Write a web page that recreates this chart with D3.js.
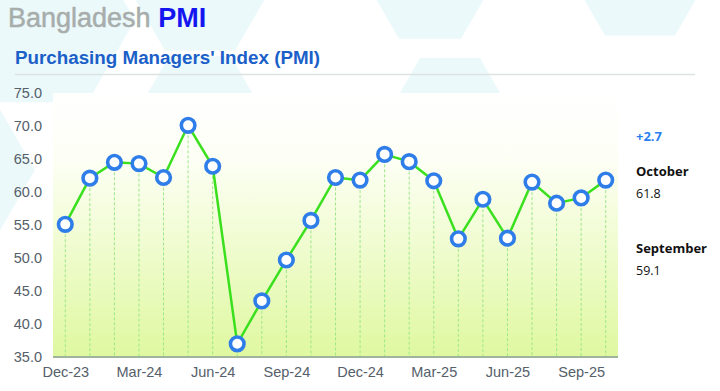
<!DOCTYPE html>
<html><head><meta charset="utf-8">
<script src="https://cdn.jsdelivr.net/npm/d3@7"></script>
<style>body{margin:0;background:#fff}svg{display:block}</style>
</head><body>
<script>
const months = ["Dec-23","Jan-24","Feb-24","Mar-24","Apr-24","May-24","Jun-24","Jul-24","Aug-24","Sep-24","Oct-24","Nov-24","Dec-24","Jan-25","Feb-25","Mar-25","Apr-25","May-25","Jun-25","Jul-25","Aug-25","Sep-25","Oct-25"];
const pmi = [55.1,62.1,64.5,64.3,62.2,70.1,63.9,37.0,43.5,49.7,55.7,62.2,61.8,65.7,64.6,61.7,52.9,58.9,53.0,61.5,58.3,59.1,61.8];
const xTickLabels = ["Dec-23","Mar-24","Jun-24","Sep-24","Dec-24","Mar-25","Jun-25","Sep-25"];
const yTicks = [35,40,45,50,55,60,65,70,75];
const notes = [
  {text:"+2.7", cls:"chg"},
  {text:"October", cls:"lbl"}, {text:"61.8", cls:"val"},
  {text:"September", cls:"lbl"}, {text:"59.1", cls:"val"}
];

(function(){
const W=720,H=391;
const svg=d3.select("body").append("svg").attr("width",W).attr("height",H);
const defs=svg.append("defs");
const g1=defs.append("linearGradient").attr("id","pg").attr("x1",0).attr("y1",0).attr("x2",0).attr("y2",1);
g1.append("stop").attr("offset","0%").attr("stop-color","#ffffff");
g1.append("stop").attr("offset","25%").attr("stop-color","#fdfff5");
g1.append("stop").attr("offset","100%").attr("stop-color","#dff8a0");

function hex(cx,cy,r){const p=[];for(let i=0;i<6;i++){const a=Math.PI/3*i;p.push([cx+r*Math.cos(a),cy+r*Math.sin(a)]);}return "M"+p.join("L")+"Z";}
const hexes=[[40,20,95],[200,-10,70],[430,-15,62],[640,-25,70],[200,110,62],[-40,170,75],[450,110,60],[40,-110,70]];
svg.append("g").selectAll("path").data(hexes).join("path").attr("d",d=>hex(d[0],d[1],d[2])).attr("fill","#e6f8fa").attr("opacity",0.8);

const t=svg.append("text").attr("x",8).attr("y",27).attr("font-family","Liberation Sans, Arial, sans-serif").attr("font-size",27);
t.append("tspan").text("Bangladesh ").attr("fill","#a7adab").attr("stroke","#a7adab").attr("stroke-width",0.5);
t.append("tspan").text("PMI").attr("fill","#1515f0").attr("font-weight","bold");
svg.append("text").attr("x",15).attr("y",64).text("Purchasing Managers' Index (PMI)")
  .attr("font-family","Liberation Sans, Arial, sans-serif").attr("font-size",18.8).attr("font-weight","bold").attr("fill","#1b5fc8");
svg.append("line").attr("x1",15).attr("x2",695).attr("y1",74.5).attr("y2",74.5).attr("stroke","#dde3e3").attr("stroke-width",1.5);

const pL=53,pR=618,pT=93,pB=357;
const x=d3.scalePoint().domain(months).range([pL,pR]).padding(0.5);
const y=d3.scaleLinear().domain([35,75]).range([pB,pT]);

svg.append("rect").attr("x",pL).attr("y",pT).attr("width",pR-pL).attr("height",pB-pT).attr("fill","url(#pg)");

svg.append("g").selectAll("line").data(months).join("line")
  .attr("x1",d=>x(d)).attr("x2",d=>x(d)).attr("y1",d=>y(pmi[months.indexOf(d)])).attr("y2",pB)
  .attr("stroke","#9ee68a").attr("stroke-width",1).attr("stroke-dasharray","3,2");

const ya=svg.append("g").attr("transform",`translate(${pL},0)`)
  .call(d3.axisLeft(y).tickValues(yTicks).tickFormat(d3.format(".1f")).tickSize(0).tickPadding(11));
ya.select(".domain").remove();
ya.selectAll("text").attr("font-family","Liberation Sans, Arial, sans-serif").attr("font-size",14.5).attr("fill","#55606a");

const xa=svg.append("g").attr("transform",`translate(0,${pB})`)
  .call(d3.axisBottom(x).tickValues(xTickLabels).tickSize(0).tickPadding(10));
xa.select(".domain").attr("stroke","#9fb59a").attr("stroke-width",2).attr("d",`M${pL},0H${pR}`);
xa.selectAll("text").attr("font-family","Liberation Sans, Arial, sans-serif").attr("font-size",14.5).attr("fill","#55606a");

const line=d3.line().x((d,i)=>x(months[i])).y(d=>y(d));
svg.append("path").datum(pmi).attr("d",line).attr("fill","none").attr("stroke","#3ae01e").attr("stroke-width",2.5);
svg.append("g").selectAll("circle").data(pmi).join("circle")
  .attr("cx",(d,i)=>x(months[i])).attr("cy",d=>y(d)).attr("r",6.8)
  .attr("fill","#fff").attr("stroke","#2f7de8").attr("stroke-width",3.6);

const ny=[141,176,198,253,275];
svg.append("g").selectAll("text").data(notes).join("text")
  .attr("x",636).attr("y",(d,i)=>ny[i]).text(d=>d.text)
  .attr("font-family","Open Sans, Liberation Sans, sans-serif")
  .attr("font-size",d=>d.cls==="val"?12.5:13)
  .attr("font-weight",d=>d.cls==="val"?"normal":"bold")
  .attr("fill",d=>d.cls==="chg"?"#2a7ff0":"#111");
})();
</script>
</body></html>
